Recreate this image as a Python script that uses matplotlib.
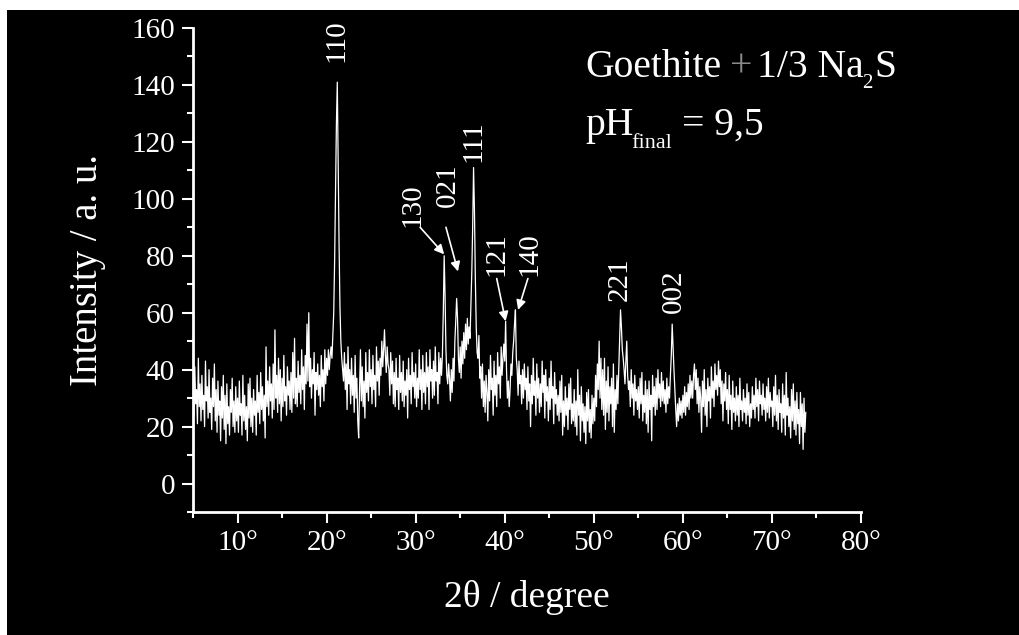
import numpy as np
import matplotlib
matplotlib.use("Agg")
import matplotlib.pyplot as plt
from matplotlib.patches import Rectangle
from matplotlib.ticker import MultipleLocator, FuncFormatter

plt.rcParams["font.family"] = ["Liberation Serif", "DejaVu Serif"]

# intensity, 0.1 deg steps starting at 5.0 deg
start_deg = 5.0
step_deg = 0.1
intensity = [
    36, 24, 41, 28, 33, 21, 44, 27, 35, 22,   # 5
    38, 26, 31, 20, 43, 29, 34, 23, 40, 25,   # 6
    30, 19, 37, 27, 42, 22, 33, 18, 36, 24,   # 7
    29, 15, 34, 23, 38, 19, 31, 14, 35, 21,   # 8
    27, 17, 33, 25, 37, 20, 29, 18, 34, 22,   # 9
    30, 18, 36, 24, 28, 17, 38, 22, 31, 19,   # 10
    27, 15, 35, 23, 37, 20, 30, 18, 33, 24,   # 11
    29, 17, 38, 25, 32, 21, 39, 26, 34, 22,   # 12
    31, 16, 48, 27, 36, 24, 41, 29, 35, 23,   # 13
    42, 26, 54, 30, 38, 25, 44, 28, 40, 22,   # 14
    37, 27, 45, 29, 34, 24, 41, 31, 36, 26,   # 15
    39, 25, 46, 30, 51, 28, 37, 27, 43, 32,   # 16
    38, 28, 47, 33, 41, 26, 45, 35, 56, 36,   # 17
    60, 34, 44, 30, 40, 35, 46, 24, 39, 33,   # 18
    42, 31, 38, 27, 45, 34, 40, 29, 47, 35,   # 19
    44, 38, 47, 40, 45, 48, 44, 52, 60, 78,   # 20
    102, 126, 141, 112, 84, 62, 50, 44, 40, 36,  # 21
    46, 33, 42, 26, 48, 35, 40, 28, 44, 31,   # 22
    38, 25, 45, 30, 37, 22, 16, 33, 47, 29,   # 23
    41, 27, 36, 23, 46, 32, 39, 29, 47, 34,   # 24
    40, 28, 45, 33, 38, 27, 48, 36, 43, 31,   # 25
    44, 38, 50, 41, 47, 54, 45, 39, 48, 42,   # 26
    40, 31, 46, 35, 43, 28, 39, 27, 44, 33,   # 27
    37, 26, 45, 32, 39, 29, 43, 27, 36, 31,   # 28
    40, 23, 44, 33, 38, 28, 46, 34, 39, 30,   # 29
    42, 27, 37, 30, 47, 33, 40, 26, 45, 32,   # 30
    39, 28, 46, 34, 41, 26, 47, 36, 40, 30,   # 31
    43, 31, 48, 36, 39, 28, 46, 35, 44, 38,   # 32
    45, 60, 80, 66, 47, 38, 35, 42, 37, 29,   # 33
    40, 32, 44, 36, 50, 57, 65, 58, 44, 39,   # 34
    48, 37, 50, 42, 53, 44, 56, 47, 58, 49,   # 35
    55, 51, 63, 74, 90, 111, 96, 72, 55, 46,  # 36
    44, 52, 37, 41, 30, 42, 27, 36, 25, 38,   # 37
    32, 22, 40, 29, 45, 33, 37, 24, 43, 31,   # 38
    38, 27, 46, 35, 41, 30, 48, 38, 44, 49,   # 39
    43, 57, 40, 30, 36, 27, 33, 42, 38, 46,   # 40
    50, 56, 61, 44, 40, 31, 43, 35, 38, 28,   # 41
    40, 30, 42, 33, 37, 26, 41, 29, 35, 20,   # 42
    38, 28, 44, 31, 36, 24, 42, 30, 37, 25,   # 43
    35, 27, 43, 32, 38, 23, 40, 29, 34, 22,   # 44
    37, 26, 43, 30, 34, 21, 39, 28, 33, 24,   # 45
    31, 22, 36, 25, 38, 17, 29, 20, 34, 24,   # 46
    30, 19, 35, 26, 37, 21, 28, 22, 33, 20,   # 47
    29, 17, 40, 24, 31, 15, 34, 22, 28, 18,   # 48
    27, 14, 32, 22, 33, 18, 26, 16, 31, 21,   # 49
    30, 22, 38, 27, 42, 33, 50, 30, 44, 26,   # 50
    40, 24, 44, 19, 36, 25, 41, 22, 34, 28,   # 51
    37, 20, 42, 18, 33, 26, 38, 28, 40, 50,   # 52
    61, 55, 47, 44, 40, 35, 43, 50, 38, 33,   # 53
    36, 27, 40, 30, 35, 24, 38, 29, 33, 26,   # 54
    34, 23, 37, 28, 39, 22, 31, 25, 36, 21,   # 55
    33, 18, 36, 26, 31, 15, 38, 27, 34, 24,   # 56
    37, 26, 40, 30, 35, 27, 39, 29, 36, 28,   # 57
    33, 25, 37, 28, 34, 30, 38, 45, 56, 48,   # 58
    40, 33, 26, 20, 28, 22, 30, 24, 29, 23,   # 59
    31, 25, 34, 24, 32, 27, 35, 26, 38, 30,   # 60
    36, 30, 38, 42, 33, 40, 28, 37, 25, 34,   # 61
    30, 18, 36, 27, 40, 24, 33, 20, 37, 29,   # 62
    34, 23, 41, 30, 36, 27, 42, 33, 38, 31,   # 63
    43, 34, 40, 28, 36, 22, 35, 29, 39, 26,   # 64
    33, 21, 38, 26, 31, 19, 36, 25, 30, 22,   # 65
    34, 24, 31, 20, 37, 26, 29, 22, 33, 25,   # 66
    30, 21, 35, 24, 32, 20, 28, 23, 34, 26,   # 67
    31, 23, 37, 27, 33, 22, 36, 28, 31, 24,   # 68
    35, 26, 30, 22, 34, 25, 37, 23, 32, 27,   # 69
    29, 20, 34, 24, 38, 22, 31, 19, 33, 25,   # 70
    28, 18, 35, 23, 31, 17, 39, 24, 30, 20,   # 71
    27, 16, 33, 22, 35, 19, 29, 17, 32, 21,   # 72
    26, 14, 32, 20, 28, 12, 30, 18, 25,       # 73
]
two_theta = start_deg + step_deg * np.arange(len(intensity))

# reflections: label, label anchor (x, y bottom)
peak_labels = ["110", "111", "130", "021", "121", "140", "221", "002"]
label_x = [21.1, 36.5, 29.6, 33.6, 39.1, 42.8, 52.9, 59.0]
label_y = [148, 113, 90, 97, 73, 73, 64, 60]

# arrows: tail (x, y) -> head (x, y)
arrow_tail = [(30.5, 90), (33.4, 90), (39.1, 72), (42.6, 72)]
arrow_head = [(33.2, 80.5), (34.75, 74.5), (40.1, 57), (41.5, 61)]

fig = plt.figure(figsize=(10.19, 6.35), dpi=100)
fig.patch.set_facecolor("white")
fig.add_artist(Rectangle((7 / 1019, 0), 1, (635 - 10) / 635,
                         transform=fig.transFigure, facecolor="black",
                         edgecolor="none", zorder=-10))

ax = fig.add_axes([193 / 1019, 1 - 512 / 635, 668 / 1019, 484 / 635])
ax.set_facecolor("black")
ax.plot(two_theta, intensity, color="white", lw=0.9)

ax.set_xlim(5, 80)
ax.set_ylim(-10, 160)
ax.xaxis.set_major_locator(MultipleLocator(10))
ax.xaxis.set_minor_locator(MultipleLocator(5))
ax.yaxis.set_major_locator(MultipleLocator(20))
ax.yaxis.set_minor_locator(MultipleLocator(10))
ax.xaxis.set_major_formatter(FuncFormatter(lambda v, p: f"{v:.0f}°"))

for side in ("top", "right"):
    ax.spines[side].set_visible(False)
for side in ("left", "bottom"):
    ax.spines[side].set_color("white")
    ax.spines[side].set_linewidth(2)
ax.tick_params(which="major", length=8, width=1.5, color="white",
               labelcolor="white", labelsize=21, pad=5)
ax.tick_params(which="minor", length=4, width=1.5, color="white")

ax.set_xlabel("2θ / degree", fontsize=27, color="white", labelpad=17)
ax.set_ylabel("Intensity / a. u.", fontsize=28, color="white", labelpad=18)

for lab, x, y in zip(peak_labels, label_x, label_y):
    ax.text(x, y, lab, rotation=90, ha="center", va="bottom",
            color="white", fontsize=21)

for tail, head in zip(arrow_tail, arrow_head):
    ax.annotate("", xy=head, xytext=tail,
                arrowprops=dict(arrowstyle="-|>", color="white", lw=1.2,
                                mutation_scale=14, shrinkA=0, shrinkB=0))

# sample description, subscripts set by hand as in the original
big = 28.5
small = 15
ax.text(49.0, 142.8, "Goethite", color="white", fontsize=big, va="baseline")
ax.text(65.3, 142.8, "+", color="#8a8a8a", fontsize=big, va="baseline")
ax.text(68.3, 142.8, "1/3 Na", color="white", fontsize=big, va="baseline")
ax.text(80.1, 139.0, "2", color="white", fontsize=small, va="baseline")
ax.text(81.55, 142.8, "S", color="white", fontsize=big, va="baseline")
ax.text(49.0, 122.5, "pH", color="white", fontsize=big, va="baseline")
ax.text(54.2, 117.9, "final", color="white", fontsize=small + 1,
        va="baseline")
ax.text(59.9, 122.5, "= 9,5", color="white", fontsize=big, va="baseline")

fig.savefig("out.png", dpi=100, facecolor=fig.get_facecolor())
